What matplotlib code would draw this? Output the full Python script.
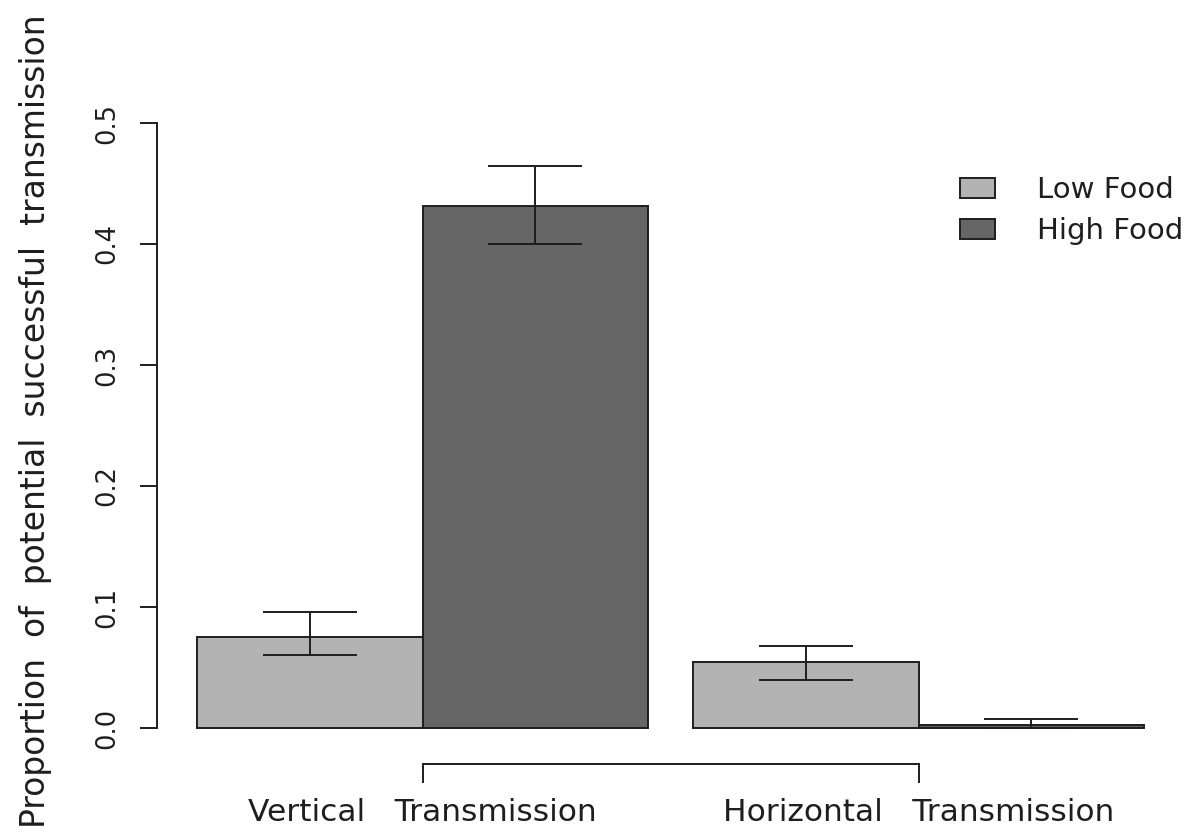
import matplotlib
matplotlib.use("Agg")
import matplotlib.pyplot as plt
import numpy as np
from matplotlib.patches import Patch

plt.rcParams['font.family'] = ['DejaVu Sans']

groups = ["Vertical   Transmission", "Horizontal   Transmission"]
series = ["Low Food", "High Food"]
low_food = [0.0755, 0.0545]
high_food = [0.4314, 0.0025]
low_err_lo = [0.0603, 0.0397]
low_err_hi = [0.0962, 0.0680]
high_err_lo = [0.4000, 0.0000]
high_err_hi = [0.4645, 0.0074]
yticks = [0.0, 0.1, 0.2, 0.3, 0.4, 0.5]
ylabel = "Proportion  of  potential  successful  transmission"

colors = ["#b3b3b3", "#666666"]
ink = "#1e1e1e"

W, H = 1195, 836
fig = plt.figure(figsize=(W / 100, H / 100), dpi=100)
ax = fig.add_axes([0, 0, 1, 1])

# pixel mapping: x unit = 225.5 px, x=0 at 152 px; y 0.1 = 121 px, y=0 at 728 px from top
xu, x0 = 225.5, 152.0
yu, y0 = 1210.0, 728.0
ax.set_xlim(-x0 / xu, (W - x0) / xu)
ax.set_ylim(-(H - y0) / yu, y0 / yu)

width = 1.0
space = 0.2
# R barplot beside=TRUE with space=c(0, 0.2)
lefts_low = [space + g * (2 * width + space) for g in range(2)]
cx_low = np.array(lefts_low) + width / 2
cx_high = cx_low + width

ax.bar(cx_low, low_food, width=width, color=colors[0], edgecolor=ink, linewidth=1.4)
ax.bar(cx_high, high_food, width=width, color=colors[1], edgecolor=ink, linewidth=1.4)

def errs(vals, lo, hi):
    v = np.array(vals)
    return [v - np.array(lo), np.array(hi) - v]

cap = 34
ax.errorbar(cx_low, low_food, yerr=errs(low_food, low_err_lo, low_err_hi), fmt="none",
            ecolor=ink, elinewidth=1.4, capsize=cap, capthick=1.4)
ax.errorbar(cx_high, high_food, yerr=errs(high_food, high_err_lo, high_err_hi), fmt="none",
            ecolor=ink, elinewidth=1.4, capsize=cap, capthick=1.4)

for s in ax.spines.values():
    s.set_visible(False)
ax.set_xticks([])

# y axis
ax.spines['left'].set_visible(True)
ax.spines['left'].set_position(('data', (157 - x0) / xu))
ax.spines['left'].set_bounds(yticks[0], yticks[-1])
ax.spines['left'].set_linewidth(1.4)
ax.spines['left'].set_color(ink)
ax.set_yticks(yticks)
ax.set_yticklabels([f"{t:.1f}" for t in yticks], rotation=90, va="center", fontsize=18.5, color=ink)
ax.tick_params(axis='y', direction='out', length=12.5, width=1.4, color=ink, pad=14)

# group axis (bracket)
gpos = (cx_low + cx_high) / 2
by = -(764 - y0) / yu
tick_len = 18 / yu
ax.plot([gpos[0], gpos[-1]], [by, by], color=ink, lw=1.4, clip_on=False)
for g in gpos:
    ax.plot([g, g], [by, by - tick_len], color=ink, lw=1.4, clip_on=False)
for g, lab in zip(gpos, groups):
    ax.text(g, -(821 - y0) / yu, lab, ha="center", va="baseline", fontsize=22.5, color=ink)

ax.text(-(x0 - 35) / xu, (y0 - 421) / yu, ylabel, rotation=90, ha="center", va="center",
        fontsize=23.8, color=ink)

# legend
handles = [Patch(facecolor=c, edgecolor=ink, linewidth=1.4) for c in colors]
leg = ax.legend(handles, series, loc="upper left", bbox_to_anchor=(960 / W, 1 - 176 / H),
                frameon=False, fontsize=21, handlelength=1.2, handleheight=0.69,
                handletextpad=1.45, labelspacing=0.45, borderaxespad=0, borderpad=0)
for t in leg.get_texts():
    t.set_color(ink)

fig.savefig("out.png", dpi=100)
